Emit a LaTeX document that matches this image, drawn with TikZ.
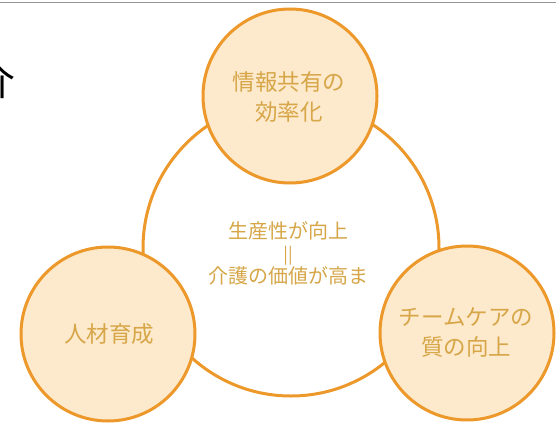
\documentclass[tikz,border=0pt]{standalone}
\usepackage{fontspec}
\setmainfont{Noto Sans CJK JP}
\newfontfamily\jpfont{Noto Sans CJK JP}
\definecolor{ringorange}{RGB}{237,152,42}
\definecolor{peach}{RGB}{253,233,203}
\definecolor{goldtext}{RGB}{214,166,72}
\definecolor{rulegray}{RGB}{150,150,150}
\tikzset{
  bigring/.style={circle, draw=ringorange, line width=3pt, fill=white, minimum size=296pt, inner sep=0pt},
  smallring/.style={circle, draw=ringorange, line width=3pt, fill=peach, minimum size=174pt, inner sep=0pt},
  ringtext/.style={text=goldtext, font=\jpfont\fontsize{22.5}{30}\selectfont, align=center},
  midtext/.style={text=goldtext, font=\jpfont\fontsize{20}{22}\selectfont, align=center, inner sep=0pt},
}
\begin{document}
\begin{tikzpicture}[x=1pt, y=-1pt]
\useasboundingbox (0,0) rectangle (556,425);
\coordinate (ruleL) at (0,2.5);
\coordinate (ruleR) at (556,2.5);
\draw[rulegray, line width=1.5pt] (ruleL) -- (ruleR);
\node[text=black, font=\jpfont\fontsize{40}{40}\selectfont, anchor=center] (cut) at (-4,80) {介};
\node[bigring] (big) at (291,248) {};
\node[smallring] (top) at (290,96) {};
\node[smallring] (left) at (108,334) {};
\node[smallring] (right) at (467,333) {};
\node[ringtext] (toptext) at (289,97) {情報共有の\\効率化};
\node[ringtext] (lefttext) at (109,334) {人材育成};
\node[ringtext] (righttext) at (466,333) {チームケアの\\質の向上};
\node[midtext] (mid1) at (288,231) {生産性が向上};
\node[midtext, font=\jpfont\fontsize{17}{17}\selectfont] (mideq) at (288,256) {||};
\node[midtext] (mid2) at (288,276) {介護の価値が高ま};
\end{tikzpicture}
\end{document}
